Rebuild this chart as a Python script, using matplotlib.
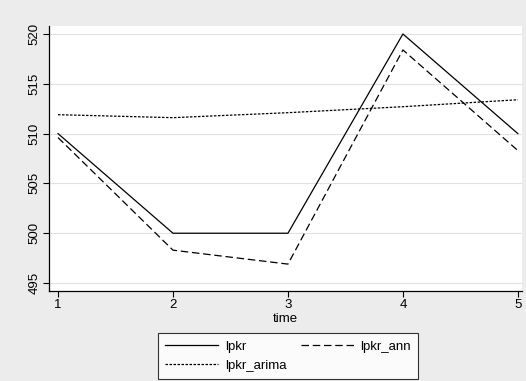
import matplotlib
matplotlib.use("Agg")
from matplotlib import pyplot as plt

time = [1, 2, 3, 4, 5]
lpkr = [510, 500, 500, 520, 510]
lpkr_ann = [509.6, 498.3, 496.9, 518.4, 508.3]
lpkr_arima = [511.9, 511.6, 512.1, 512.7, 513.4]

plt.rcParams['font.family'] = ['Liberation Sans', 'DejaVu Sans']

fig = plt.figure(figsize=(5.26, 3.81), dpi=100, facecolor='#ececec')
ax = fig.add_axes([0.0932, 0.2362, 0.899, 0.6955])
ax.set_facecolor('white')

l1, = ax.plot(time, lpkr, color='black', lw=0.9, label='lpkr')
l2, = ax.plot(time, lpkr_ann, color='black', lw=0.9, dashes=(6, 3), label='lpkr_ann')
l3, = ax.plot(time, lpkr_arima, color='black', lw=0.9, dashes=(2, 1.2), label='lpkr_arima')

ax.set_xlim(0.9217, 5.035)
ax.set_ylim(494.2, 520.8)
ax.set_xticks(time)
ax.set_yticks([495, 500, 505, 510, 515, 520])
ax.tick_params(axis='y', labelrotation=90, labelsize=9.5, length=4, width=0.8, pad=2)
ax.tick_params(axis='x', labelsize=9.5, length=4, width=0.8, pad=2)
for lab in ax.get_yticklabels():
    lab.set_va('center')
ax.grid(axis='y', color='#e2e2e2', lw=0.8)
ax.set_axisbelow(True)
for s in ['top', 'right']:
    ax.spines[s].set_visible(False)
for s in ['left', 'bottom']:
    ax.spines[s].set_linewidth(0.9)
ax.set_xlabel('time', fontsize=9.5, labelpad=1.5)

leg = fig.legend([l1, l3, l2], ['lpkr', 'lpkr_arima', 'lpkr_ann'], ncol=2,
                 loc='lower left', bbox_to_anchor=(158 / 526, 2 / 381, 260 / 526, 45 / 381),
                 mode='expand', borderaxespad=0, fontsize=9.5, frameon=True, fancybox=False,
                 edgecolor='black', handlelength=4.0, handletextpad=0.5,
                 borderpad=0.55, labelspacing=0.5, columnspacing=4)
leg.get_frame().set_linewidth(0.8)

fig.savefig('out.png', dpi=100, facecolor=fig.get_facecolor())
